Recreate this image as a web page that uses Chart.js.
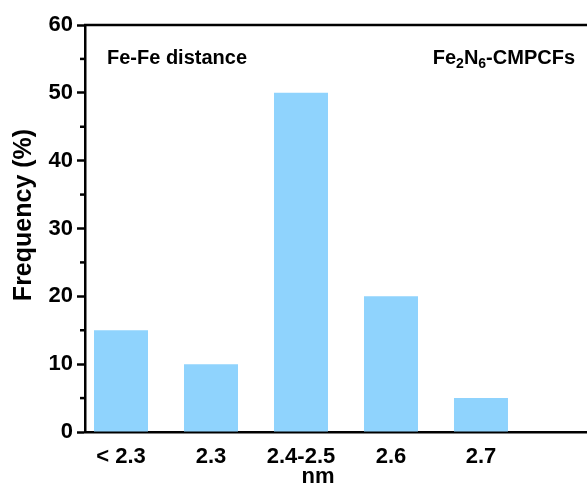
<!DOCTYPE html>
<html lang="en">
<head>
    <meta charset="UTF-8">
    <title>Fe-Fe distance histogram</title>
    <script src="https://cdn.jsdelivr.net/npm/chart.js"></script>
    <style>
        body {
            margin: 0;
            padding: 0;
            background: #ffffff;
            overflow: hidden;
        }
        #wrap {
            width: 587px;
            height: 492px;
        }
    </style>
</head>
<body>
    <div id="wrap"><canvas id="histChart"></canvas></div>

    <script>
        // Data
        const categories = ['< 2.3', '2.3', '2.4-2.5', '2.6', '2.7'];
        const frequency = [15, 10, 50, 20, 5];
        const yTicks = [0, 10, 20, 30, 40, 50, 60];
        const yMinorTicks = [5, 15, 25, 35, 45, 55];

        const FONT = '"Liberation Sans", Arial, sans-serif';
        const barColor = '#8fd3fd';

        // frame top line, minor ticks and text labels
        const extrasPlugin = {
            id: 'extras',
            afterDraw(chart) {
                const ctx = chart.ctx;
                const area = chart.chartArea;
                const y = chart.scales.y;
                ctx.save();
                ctx.strokeStyle = '#000';
                ctx.lineWidth = 2.5;
                ctx.beginPath();
                ctx.moveTo(area.left - 1, area.top);
                ctx.lineTo(area.right, area.top);
                ctx.stroke();

                // minor ticks
                yMinorTicks.forEach(v => {
                    const py = y.getPixelForValue(v);
                    ctx.beginPath();
                    ctx.moveTo(area.left - 5, py);
                    ctx.lineTo(area.left, py);
                    ctx.stroke();
                });

                ctx.fillStyle = '#000';
                ctx.textBaseline = 'middle';

                // left annotation
                ctx.font = 'bold 20px ' + FONT;
                ctx.textAlign = 'left';
                ctx.fillText('Fe-Fe distance', 107, 58);

                // right annotation with subscripts
                const parts = [
                    ['Fe', false], ['2', true], ['N', false], ['6', true], ['-CMPCFs', false]
                ];
                const widths = parts.map(p => {
                    ctx.font = (p[1] ? 'bold 14px ' : 'bold 20px ') + FONT;
                    return ctx.measureText(p[0]).width;
                });
                let px = 575 - widths.reduce((a, b) => a + b, 0);
                parts.forEach((p, i) => {
                    ctx.font = (p[1] ? 'bold 14px ' : 'bold 20px ') + FONT;
                    ctx.fillText(p[0], px, p[1] ? 64 : 58);
                    px += widths[i];
                });

                // x axis title
                ctx.font = 'bold 22px ' + FONT;
                ctx.textAlign = 'center';
                ctx.fillText('nm', 318, 477);

                // y axis title
                ctx.translate(24, 215);
                ctx.rotate(-Math.PI / 2);
                ctx.font = 'bold 25px ' + FONT;
                ctx.fillText('Frequency (%)', 0, 0);
                ctx.restore();
            }
        };

        new Chart(document.getElementById('histChart'), {
            type: 'bar',
            data: {
                datasets: [{
                    data: categories.map((c, i) => ({ x: i, y: frequency[i] })),
                    backgroundColor: barColor,
                    borderWidth: 0,
                    barPercentage: 0.6,
                    categoryPercentage: 1.0
                }]
            },
            options: {
                responsive: true,
                maintainAspectRatio: false,
                animation: false,
                layout: {
                    padding: { top: 25, right: 0, bottom: 0, left: 0 }
                },
                plugins: {
                    legend: { display: false },
                    tooltip: { enabled: false }
                },
                scales: {
                    x: {
                        type: 'linear',
                        offset: false,
                        min: -0.4,
                        max: 5.178,
                        afterBuildTicks: scale => {
                            scale.ticks = categories.map((c, i) => ({ value: i }));
                        },
                        afterFit: scale => { scale.height = 60; },
                        grid: { display: false },
                        border: { display: true, color: '#000', width: 2.5 },
                        ticks: {
                            color: '#000',
                            padding: 4,
                            maxRotation: 0,
                            autoSkip: false,
                            font: { family: FONT, size: 22, weight: 'bold' },
                            callback: v => categories[v] ?? ''
                        }
                    },
                    y: {
                        min: 0,
                        max: 60,
                        afterBuildTicks: scale => {
                            scale.ticks = yTicks.map(v => ({ value: v }));
                        },
                        afterFit: scale => { scale.width = 85; },
                        grid: {
                            drawOnChartArea: false,
                            tickLength: 8,
                            tickColor: '#000',
                            tickWidth: 2.5
                        },
                        border: { display: true, color: '#000', width: 2.5 },
                        ticks: {
                            color: '#000',
                            padding: 4,
                            font: { family: FONT, size: 22, weight: 'bold' }
                        }
                    }
                }
            },
            plugins: [extrasPlugin]
        });
    </script>
</body>
</html>
